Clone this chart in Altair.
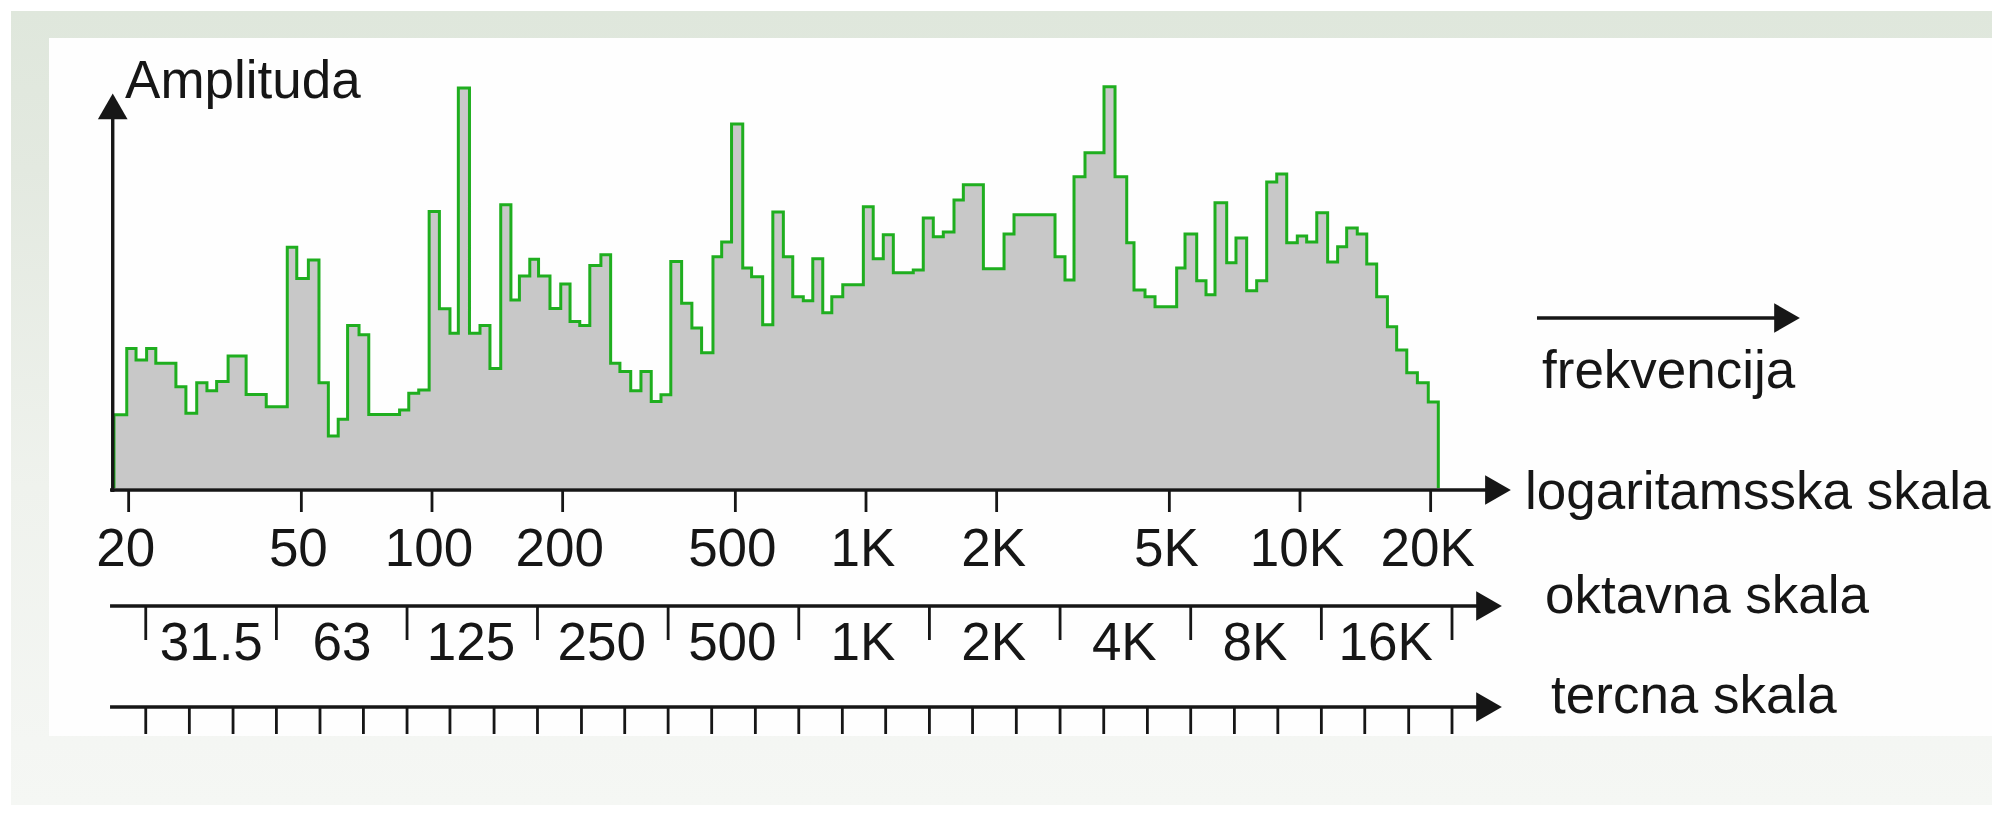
import altair as alt
import pandas as pd

# ---------------- data ----------------
# start frequency (Hz) of each constant-amplitude step of the spectrum
band_start_hz = [
    18.5, 19.8, 20.8, 22.0, 23.1, 25.7, 27.1, 28.7, 30.3, 31.9,
    33.9, 37.3, 41.5, 46.4, 48.8, 51.9, 54.9, 57.7, 60.8, 63.9,
    67.9, 71.5, 84.2, 88.4, 93.2, 98.5, 104, 110, 115, 122,
    129, 136, 144, 152, 159, 168, 176, 187, 198, 208,
    219, 231, 245, 258, 271, 287, 303, 320, 337, 355,
    376, 397, 418, 444, 465, 490, 520, 545, 578, 610,
    645, 678, 717, 754, 795, 834, 884, 986, 1039, 1096,
    1156, 1285, 1355, 1429, 1507, 1595, 1676, 1864, 2080, 2193,
    2726, 2874, 3015, 3196, 3535, 3748, 3988, 4145, 4394, 4634,
    5198, 5433, 5781, 6073, 6370, 6778, 7120, 7536, 7947, 8381,
    8839, 9320, 9858, 10360, 10930, 11580, 12210, 12810, 13550, 14250,
    15020, 15900, 16700, 17620, 18640, 19750,
]
# amplitude of each step (arbitrary units, 0 = frequency axis)
band_amplitude = [
    18.3, 34.9, 32.0, 34.9, 31.2, 25.3, 18.7, 26.3, 24.3, 26.6,
    33.0, 23.4, 20.3, 60.2, 52.4, 57.0, 26.3, 13.0, 17.2, 40.6,
    38.3, 18.4, 19.5, 23.7, 24.5, 69.1, 44.8, 38.7, 100.0, 38.7,
    40.6, 29.9, 70.8, 47.0, 53.0, 57.2, 53.0, 44.9, 51.0, 41.6,
    40.6, 55.6, 58.3, 31.2, 29.1, 24.3, 29.1, 21.6, 23.3, 56.6,
    46.2, 40.0, 33.8, 57.8, 61.5, 91.0, 55.0, 52.8, 40.8, 69.0,
    57.8, 47.8, 46.8, 57.3, 43.8, 47.8, 50.8, 70.3, 57.3, 63.3,
    53.8, 54.5, 67.5, 62.8, 64.0, 72.0, 75.8, 54.8, 63.5, 68.3,
    57.8, 52.0, 77.8, 83.8, 100.3, 77.8, 61.3, 49.5, 47.8, 45.3,
    55.0, 63.5, 51.8, 48.3, 71.3, 56.3, 62.5, 49.3, 51.8, 76.5,
    78.5, 61.3, 63.0, 61.5, 68.8, 56.5, 60.3, 65.0, 63.5, 56.0,
    47.8, 40.3, 34.5, 28.8, 26.3, 21.5,
]
band_end_hz = 20830

log_tick_hz = [20, 50, 100, 200, 500, 1000, 2000, 5000, 10000, 20000]
log_tick_text = ["20", "50", "100", "200", "500", "1K", "2K", "5K", "10K", "20K"]

octave_edge_hz = [21.9, 43.8, 87.6, 175, 350, 700, 1400, 2800, 5600, 11200, 22400]
octave_center_hz = [31.5, 63, 125, 250, 500, 1000, 2000, 4000, 8000, 16000]
octave_text = ["31.5", "63", "125", "250", "500", "1K", "2K", "4K", "8K", "16K"]

third_edge_hz = [
    21.9, 27.6, 34.8, 43.8, 55.2, 69.5, 87.6, 110, 139, 175, 221,
    278, 350, 441, 556, 700, 882, 1110, 1400, 1760, 2220, 2800,
    3530, 4450, 5600, 7060, 8890, 11200, 14100, 17800, 22400,
]

scale_names = ["logaritamsska skala", "oktavna skala", "tercna skala"]

# ---------------- scales ----------------
XS = alt.Scale(type="log", domain=[10.545, 393060], nice=False)
YS = alt.Scale(domain=[-79.25, 120], nice=False, zero=False)


def xf(field):
    return alt.X(f"{field}:Q", scale=XS, axis=None)


def yf(field):
    return alt.Y(f"{field}:Q", scale=YS, axis=None)


FONT = "Liberation Sans"
INK = "#161616"
one_row = pd.DataFrame({"k": [0]})

# ---------------- background frame ----------------
frame_fill = alt.Gradient(
    gradient="linear",
    stops=[
        alt.GradientStop(color="#dfe7dc", offset=0),
        alt.GradientStop(color="#e3e9e0", offset=0.2),
        alt.GradientStop(color="#eff2ed", offset=0.6),
        alt.GradientStop(color="#f4f6f3", offset=0.92),
        alt.GradientStop(color="#f5f7f4", offset=1),
    ],
    x1=0, x2=0, y1=0, y2=1,
)
frame = alt.Chart(one_row).mark_rect(fill=frame_fill, strokeWidth=0).encode(
    x=alt.value(3), x2=alt.value(1984), y=alt.value(3), y2=alt.value(797)
)
panel = alt.Chart(one_row).mark_rect(fill="#fefefe", strokeWidth=0).encode(
    x=alt.value(41), x2=alt.value(1984), y=alt.value(30), y2=alt.value(728)
)

# ---------------- spectrum ----------------
area_df = pd.DataFrame({
    "f": band_start_hz + [band_end_hz],
    "a": band_amplitude + [band_amplitude[-1]],
})
area = alt.Chart(area_df).mark_area(
    interpolate="step-after", color="#c8c8c8", opacity=1
).encode(x=xf("f"), y=yf("a"), y2=alt.datum(0))

line_f = [band_start_hz[0]] + band_start_hz + [band_end_hz, band_end_hz]
line_a = [0] + band_amplitude + [band_amplitude[-1], 0]
line_df = pd.DataFrame({"f": line_f, "a": line_a, "i": list(range(len(line_f)))})
outline = alt.Chart(line_df).mark_line(
    interpolate="step-after", color="#1fae1f", strokeWidth=3.0
).encode(x=xf("f"), y=yf("a"), order="i:Q")

# ---------------- axes / scales ----------------
hline_df = pd.DataFrame({
    "f": [18.12, 18.12, 18.12, 35160],
    "f2": [27400, 26270, 26270, 127630],
    "a": [-0.5, -29.5, -54.75, 42.5],
})
hlines = alt.Chart(hline_df).mark_rule(color=INK, strokeWidth=3.6).encode(
    x=xf("f"), x2="f2:Q", y=yf("a")
)
yaxis = alt.Chart(pd.DataFrame({"f": [18.38], "a": [-1.0], "a2": [93.0]})).mark_rule(
    color=INK, strokeWidth=3.4
).encode(x=xf("f"), y=yf("a"), y2="a2:Q")

tick_rows = (
    [{"f": f, "a": -0.5, "a2": -6.0} for f in log_tick_hz]
    + [{"f": f, "a": -29.5, "a2": -38.0} for f in octave_edge_hz]
    + [{"f": f, "a": -54.75, "a2": -61.5} for f in third_edge_hz]
)
ticks = alt.Chart(pd.DataFrame(tick_rows)).mark_rule(color=INK, strokeWidth=2.8).encode(
    x=xf("f"), y=yf("a"), y2="a2:Q"
)

arrow_df = pd.DataFrame({
    "f": [18.38, 28590, 27260, 27260, 132480],
    "a": [95.4, -0.5, -29.5, -54.75, 42.5],
    "shape": ["triangle-up", "triangle-right", "triangle-right", "triangle-right", "triangle-right"],
})
arrows = alt.Chart(arrow_df).mark_point(
    filled=True, size=880, opacity=1, color=INK, strokeWidth=0
).encode(x=xf("f"), y=yf("a"), shape=alt.Shape("shape:N", scale=None))

# ---------------- texts ----------------
tick_text_df = pd.DataFrame(
    [{"f": f, "a": -19.5, "t": t} for f, t in zip(log_tick_hz, log_tick_text)]
    + [{"f": f, "a": -43.0, "t": t} for f, t in zip(octave_center_hz, octave_text)]
)
tick_texts = alt.Chart(tick_text_df).mark_text(
    align="center", baseline="alphabetic", dx=-3, font=FONT, fontSize=53, color=INK
).encode(x=xf("f"), y=yf("a"), text="t:N")

title_df = pd.DataFrame({
    "f": [19.62, 36110, 32995, 36690, 37880],
    "a": [97.5, 25.0, -5.25, -31.25, -56.25],
    "t": ["Amplituda", "frekvencija"] + scale_names,
})
titles = alt.Chart(title_df).mark_text(
    align="left", baseline="alphabetic", font=FONT, fontSize=53, color=INK
).encode(x=xf("f"), y=yf("a"), text="t:N")

chart = alt.layer(
    frame, panel, area, outline, hlines, yaxis, ticks, arrows, tick_texts, titles
).properties(
    width=1984, height=797, padding=0,
    autosize=alt.AutoSizeParams(type="none"), background="#ffffff",
).configure_view(stroke=None)

chart.save("out.html", embed_options={"renderer": "svg", "actions": False})
